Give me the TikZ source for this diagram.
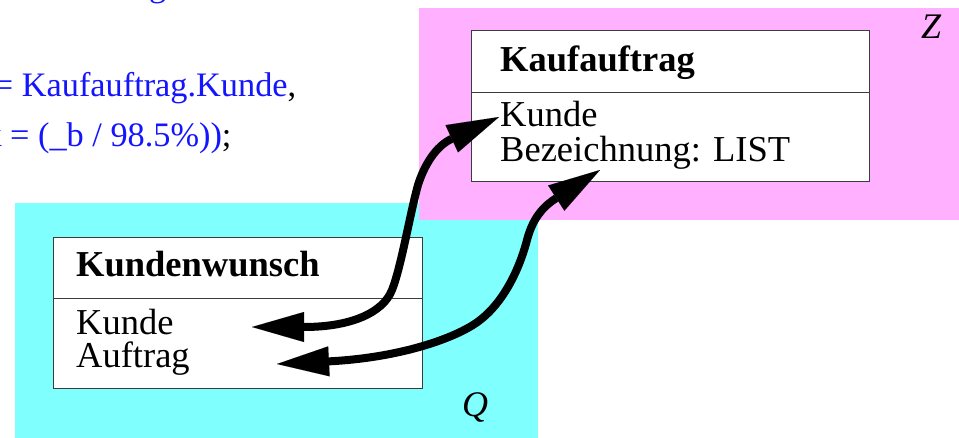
\documentclass[tikz,border=0pt]{standalone}
\usepackage{fontspec}
\setmainfont{Liberation Serif}
\usetikzlibrary{arrows.meta}
\definecolor{zpink}{RGB}{255,176,255}
\definecolor{qcyan}{RGB}{128,255,255}
\definecolor{codeblue}{RGB}{20,20,255}
\definecolor{boxline}{RGB}{60,60,60}
\begin{document}
\begin{tikzpicture}[x=1pt,y=-1pt,
  region/.style={draw=none,anchor=north west,inner sep=0pt,outer sep=0pt},
  cbox/.style={draw=boxline,fill=white,line width=1.5pt,anchor=north west,inner sep=0pt,outer sep=0pt},
  ctitle/.style={anchor=base west,inner sep=0pt,font=\fontsize{36.5}{34}\selectfont\bfseries},
  cattr/.style={anchor=base west,inner sep=0pt,font=\fontsize{36.5}{34}\selectfont},
  ctx/.style={anchor=base west,inner sep=0pt,font=\fontsize{36}{34}\selectfont\itshape},
  code/.style={anchor=base west,inner sep=0pt,text=codeblue,font=\fontsize{34.3}{34}\selectfont},
  bigtip/.tip={Triangle[length=52pt,width=30pt,line width=0.01pt]},
  conn/.style={line width=8pt,bigtip-bigtip}]
\useasboundingbox (0,0) rectangle (959,438);
\clip (0,0) rectangle (959,438);
% code fragments
\node[code] (c0) at (149,-3.5) {g};
\node[code] (c1) at (-6.2,96.7) {= Kaufauftrag.Kunde\textcolor{black}{,}};
\node[code] (c2) at (-15.7,147) {k = (\_b / 98.5\%))\textcolor{black}{;}};
% regions
\node[region,fill=qcyan,minimum width=523.3pt,minimum height=240pt] (Qr) at (15,203.3) {};
\node[region,fill=zpink,minimum width=545pt,minimum height=212pt] (Zr) at (419,8) {};
\node[ctx] (Zl) at (921,39) {Z};
\node[ctx] (Ql) at (462,417) {Q};
% class Kaufauftrag
\node[cbox,minimum width=397.6pt,minimum height=62pt] (kaTop) at (471.7,30.7) {};
\node[cbox,minimum width=397.6pt,minimum height=89pt] (kaBot) at (471.7,92.7) {};
\node[ctitle] (kaT) at (500,71.7) {Kaufauftrag};
\node[cattr] (kaK) at (500,126.7) {Kunde};
\node[cattr] (kaB) at (500,161.7) {Bezeichnung: LIST};
% class Kundenwunsch
\node[cbox,minimum width=369pt,minimum height=61pt] (kwTop) at (53.3,237.3) {};
\node[cbox,minimum width=369pt,minimum height=90pt] (kwBot) at (53.3,298.3) {};
\node[ctitle] (kwT) at (76,276.7) {Kundenwunsch};
\node[cattr] (kwK) at (76,335) {Kunde};
\node[cattr] (kwA) at (76,368) {Auftrag};
% arrow ends
\coordinate (a1s) at (252,327);
\coordinate (a1e) at (499,117);
\coordinate (a2s) at (277,364);
\coordinate (a2e) at (600,170);
% connectors
\draw[conn] (a1s) .. controls (350,327) and (382.75,313.25) .. (392,290)
  .. controls (401.25,266.75) and (410,213.5) .. (418,185)
  .. controls (424,166) and (435.4,146.3) .. (a1e);
\draw[conn] (a2s) .. controls (395,358) and (447.6,340.9) .. (473,325)
  .. controls (506.9,303.8) and (522,259.4) .. (527,240)
  .. controls (533.3,215.8) and (545.4,205.1) .. (a2e);
\end{tikzpicture}
\end{document}
